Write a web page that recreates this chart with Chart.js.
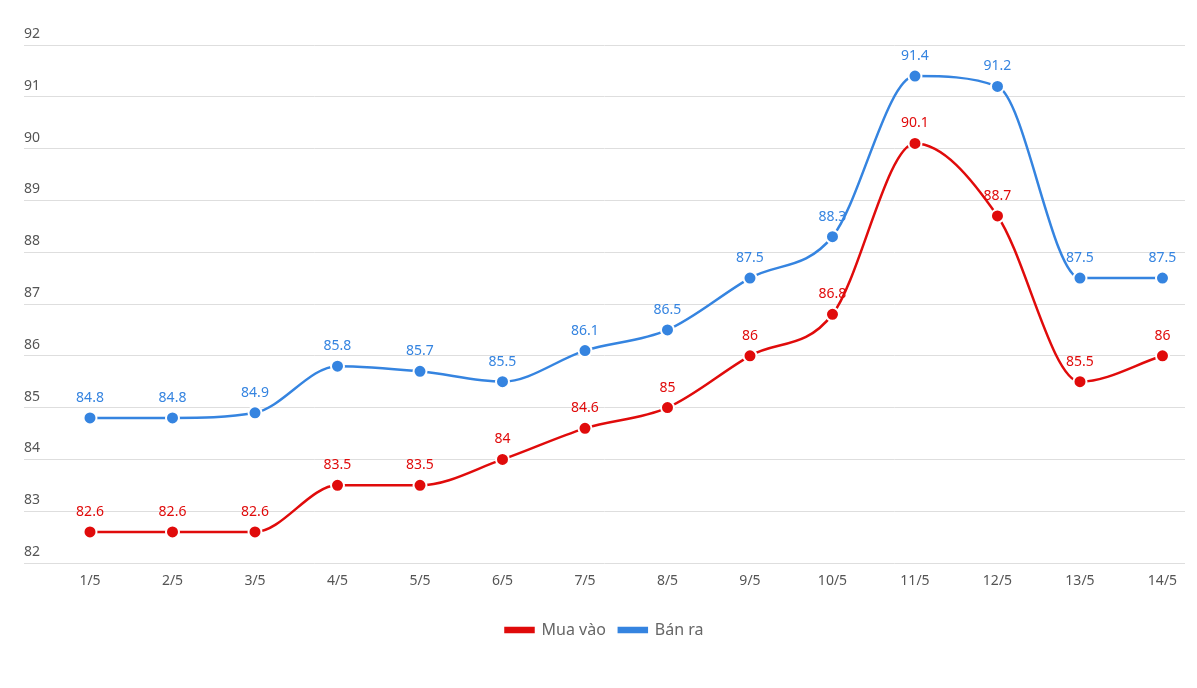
<!DOCTYPE html>
<html>
<head>
<meta charset="utf-8">
<script src="https://cdn.jsdelivr.net/npm/chart.js@4"></script>
<style>
  html, body { margin: 0; padding: 0; background: #fff; }
  #wrap { width: 1197px; height: 688px; }
</style>
</head>
<body>
<div id="wrap"><canvas id="myChart"></canvas></div>
<script>
"use strict";

const labels = ["1/5", "2/5", "3/5", "4/5", "5/5", "6/5", "7/5", "8/5", "9/5", "10/5", "11/5", "12/5", "13/5", "14/5"];
const muaVao = [82.6, 82.6, 82.6, 83.5, 83.5, 84, 84.6, 85, 86, 86.8, 90.1, 88.7, 85.5, 86];
const banRa = [84.8, 84.8, 84.9, 85.8, 85.7, 85.5, 86.1, 86.5, 87.5, 88.3, 91.4, 91.2, 87.5, 87.5];
const yMin = 82;
const yMax = 92;

const RED = "#e00b0b";
const BLUE = "#3584e0";
const FONT = "'Noto Sans', 'Open Sans', sans-serif";

function toPoints(values) {
    return values.map((v, i) => ({ x: i, y: v }));
}

// draw the value above each point
const valueLabels = {
    id: "valueLabels",
    afterDatasetsDraw(chart) {
        const c = chart.ctx;
        c.save();
        c.font = "14px " + FONT;
        c.textAlign = "center";
        c.textBaseline = "middle";
        chart.data.datasets.forEach((ds, di) => {
            const meta = chart.getDatasetMeta(di);
            c.fillStyle = ds.borderColor;
            meta.data.forEach((pt, i) => {
                c.fillText(String(ds.data[i].y), pt.x, pt.y - 20);
            });
        });
        c.restore();
    }
};

const ctx = document.getElementById("myChart");

new Chart(ctx, {
    type: "line",
    data: {
        datasets: [
            {
                label: "Mua vào",
                data: toPoints(muaVao),
                borderColor: RED,
                backgroundColor: RED,
                borderWidth: 2.5,
                pointRadius: 6.5,
                pointBorderWidth: 2,
                pointBorderColor: "#fff",
                pointBackgroundColor: RED,
                cubicInterpolationMode: "monotone"
            },
            {
                label: "Bán ra",
                data: toPoints(banRa),
                borderColor: BLUE,
                backgroundColor: BLUE,
                borderWidth: 2.5,
                pointRadius: 6.5,
                pointBorderWidth: 2,
                pointBorderColor: "#fff",
                pointBackgroundColor: BLUE,
                cubicInterpolationMode: "monotone"
            }
        ]
    },
    options: {
        responsive: true,
        maintainAspectRatio: false,
        animation: false,
        layout: {
            padding: { left: 24, right: 12, top: 45, bottom: 40 }
        },
        plugins: {
            tooltip: { enabled: false },
            legend: {
                position: "bottom",
                labels: {
                    boxWidth: 28,
                    boxHeight: 4,
                    color: "#666",
                    padding: 13,
                    font: { family: FONT, size: 16 }
                }
            }
        },
        scales: {
            x: {
                type: "linear",
                min: -0.8,
                max: 13.273,
                afterBuildTicks: (scale) => {
                    scale.ticks = labels.map((_, i) => ({ value: i }));
                },
                afterFit: (scale) => {
                    scale.height = 46;
                },
                ticks: {
                    autoSkip: false,
                    maxRotation: 0,
                    color: "#555",
                    padding: 10,
                    font: { family: FONT, size: 14 },
                    callback: (value) => labels[value] ?? ""
                },
                grid: { display: false, drawTicks: false },
                border: { display: false }
            },
            y: {
                min: yMin,
                max: yMax,
                ticks: {
                    stepSize: 1,
                    mirror: true,
                    padding: 0,
                    labelOffset: -11,
                    color: "#555",
                    font: { family: FONT, size: 14 }
                },
                grid: { color: "#dedede", lineWidth: 1, drawTicks: false },
                border: { display: false }
            }
        }
    },
    plugins: [valueLabels]
});
</script>
</body>
</html>
